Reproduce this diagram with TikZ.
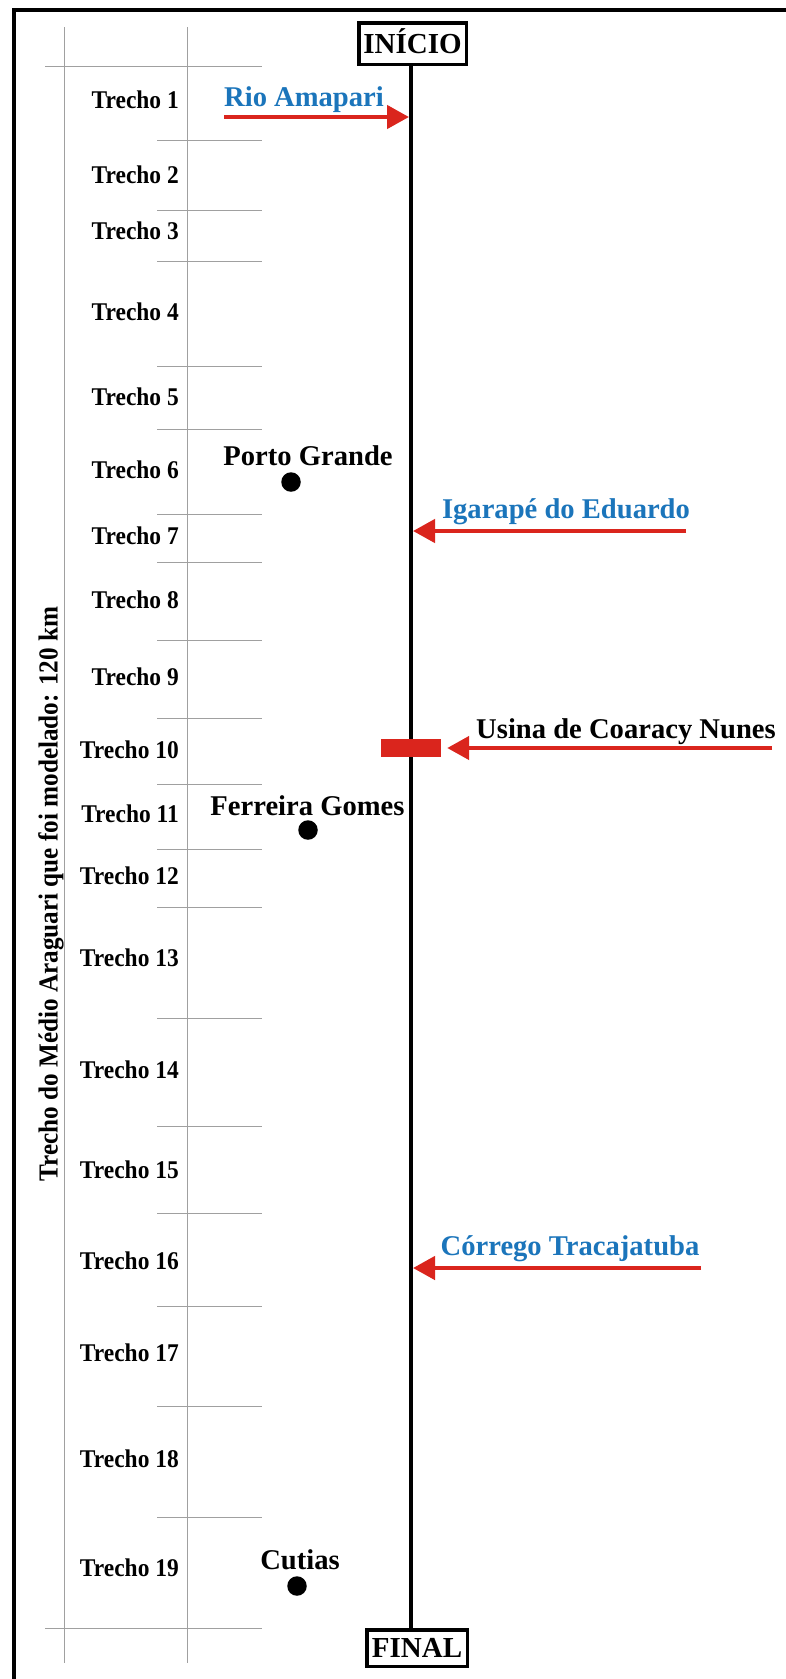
\documentclass[tikz,border=0pt]{standalone}
\usepackage{fontspec}
\setmainfont{Liberation Serif}
\newfontfamily\trfont[FakeStretch=0.92]{Liberation Serif}
\newfontfamily\vtfont[FakeStretch=0.915]{Liberation Serif}
\usetikzlibrary{arrows.meta}
\definecolor{rred}{RGB}{218,37,29}
\definecolor{rblue}{RGB}{27,117,187}
\definecolor{gridgray}{RGB}{160,160,160}
\begin{document}
\begin{tikzpicture}[x=1pt,y=-1pt,
  gridline/.style={draw=gridgray,line width=1pt},
  frameline/.style={line width=4pt, black},
  mainline/.style={line width=3.5pt, black},
  endbox/.style={draw, line width=3.5pt, inner sep=0pt, fill=white,
    font=\fontsize{29}{30}\selectfont\bfseries, text height=19pt, text depth=0pt},
  trecho/.style={anchor=base east, inner sep=0pt, font=\trfont\fontsize{25.5}{27}\selectfont\bfseries},
  place/.style={anchor=base, inner sep=0pt, font=\fontsize{28.6}{30}\selectfont\bfseries},
  river/.style={place, text=rblue},
  towndot/.style={circle, fill=black, inner sep=0pt, minimum size=19.5pt},
  inflow/.style={draw=rred, line width=4.5pt, -{Triangle[length=22pt,width=23pt]}},
]
\useasboundingbox (0,0) rectangle (786,1679);
\fill[white] (0,0) rectangle (786,1679);
% frame (cropped on right and bottom)
\draw[frameline] (13.5,1700) -- (13.5,9.5) -- (820,9.5);
% grid
\foreach \x in {64,187} \draw[gridline] (\x,27) -- (\x,1663);
\foreach \y in {66,1628} \draw[gridline] (45,\y) -- (262,\y);
\foreach \y in {140,210,261,366,429,514,562,640,718,784,849,907,1018,1126,1213,1306,1406,1517}
  \draw[gridline] (157,\y) -- (262,\y);
% trecho labels
\foreach \n/\y in {1/100,2/175,3/231,4/312,5/397,6/470,7/536,8/600,9/677,10/750,11/814,12/876,13/958,14/1070,15/1170,16/1261,17/1353,18/1459,19/1568}
  \node[trecho] (t\n) at (179,\y+8.5) {Trecho \n};
% vertical caption
\node[rotate=90, inner sep=0pt, font=\vtfont\fontsize{27.5}{28}\selectfont\bfseries] (vt) at (51,894)
  {Trecho do Médio Araguari que foi modelado: 120 km};
% start / end boxes and main river line
\coordinate (mx) at (411,0);
\coordinate (mxl) at (409,0);
\coordinate (mxr) at (413,0);
\node[endbox, minimum width=107.5pt, minimum height=41.5pt] (ini) at (412.5,43.5) {INÍCIO};
\node[endbox, minimum width=100.5pt, minimum height=36.5pt] (fin) at (417,1648) {FINAL};
\draw[mainline] (ini.south -| mx) -- (fin.north -| mx);
% dam
\node[fill=rred, minimum width=60pt, minimum height=18pt, inner sep=0pt] (dam) at (411,748) {};
% inflows
\coordinate (rioS) at (224,117);
\draw[inflow] (rioS) -- (rioS -| mxl);
\coordinate (igS) at (686,531);
\draw[inflow] (igS) -- (igS -| mxr);
\coordinate (usS) at (772,748);
\draw[inflow] (usS) -- ([xshift=6pt]dam.east);
\coordinate (crS) at (701,1268);
\draw[inflow] (crS) -- (crS -| mxr);
% labels
\node[river] (rio) at (304,106.5) {Rio Amapari};
\node[river] (ig) at (566,518) {Igarapé do Eduardo};
\node[place] (us) at (626,738) {Usina de Coaracy Nunes};
\node[river] (cr) at (570,1255) {Córrego Tracajatuba};
\node[place] (pg) at (308,465) {Porto Grande};
\node[towndot] (pgd) at (291,482) {};
\node[place] (fg) at (307.5,815) {Ferreira Gomes};
\node[towndot] (fgd) at (308,830) {};
\node[place] (cu) at (300,1569) {Cutias};
\node[towndot] (cud) at (297,1586) {};
\end{tikzpicture}
\end{document}
